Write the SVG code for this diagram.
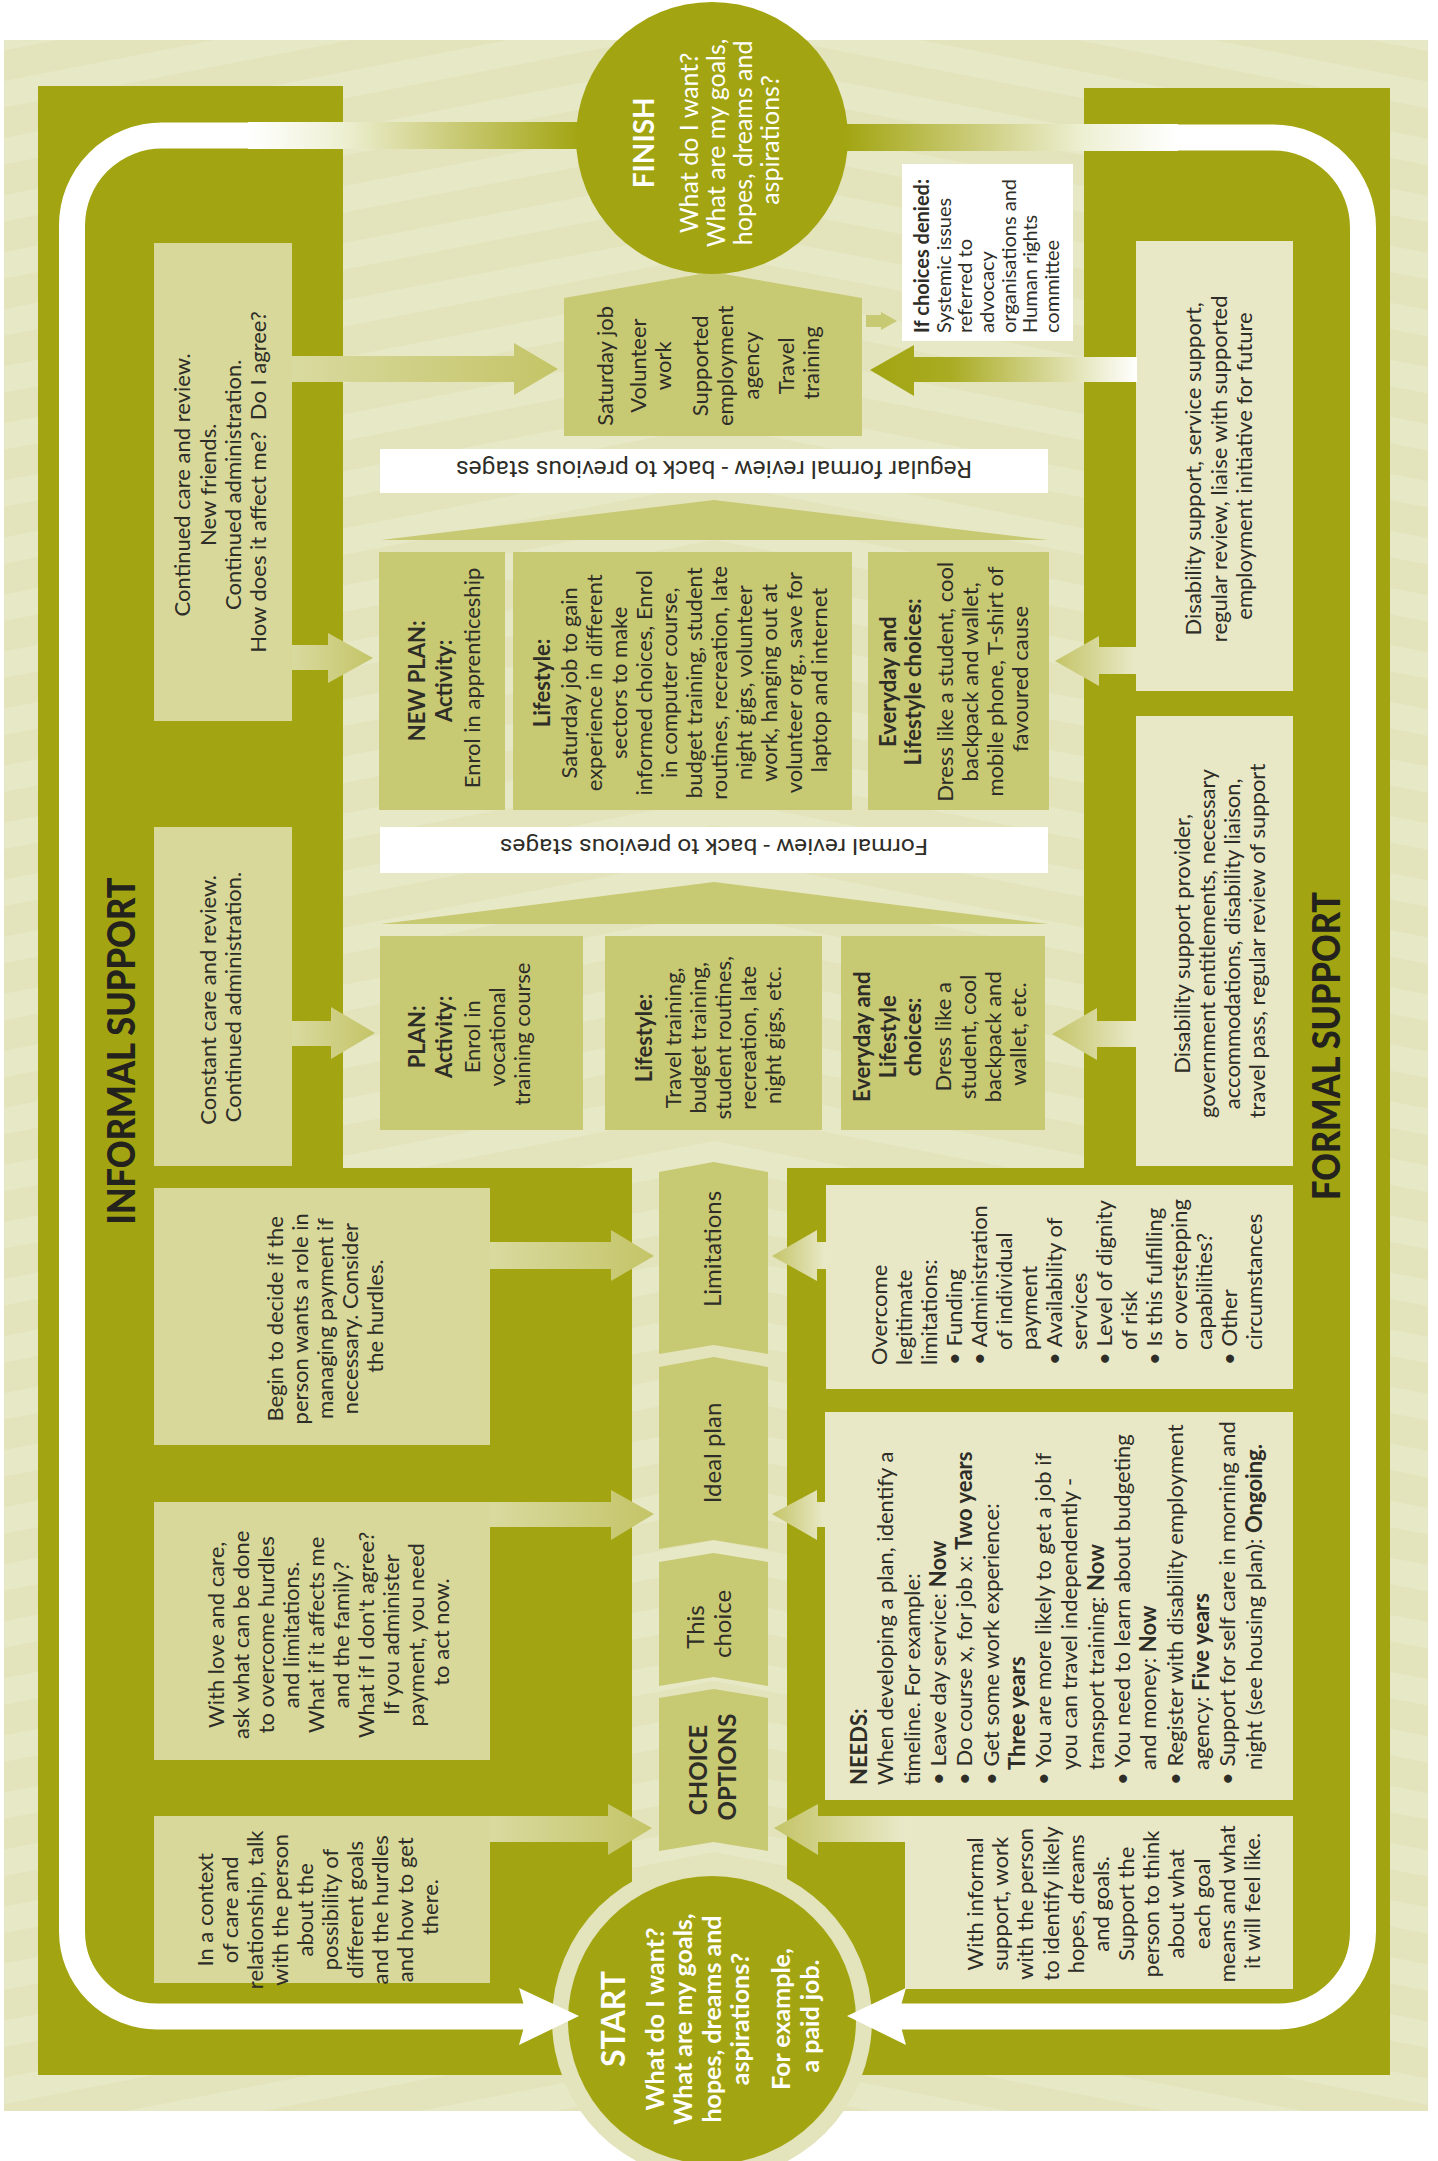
<svg xmlns="http://www.w3.org/2000/svg" width="1438" height="2161" viewBox="0 0 1438 2161">
<defs>
<style>
.t{font-family:Lato,"Open Sans","Liberation Sans",sans-serif;font-size:22px;fill:#2e2d27}
.b{font-weight:700}
.c{font-size:24px}
.w{fill:#ffffff}
.big{font-size:37px;font-weight:900;fill:#23221d}
.rev{font-family:Roboto,"Liberation Sans",sans-serif;font-size:23px;fill:#2e2d27}
.dark{fill:#a2a511}
.mid{fill:#c8c973}
.lb{fill:#d7d89a}
.rb{fill:#e8e8c6}
.loop{fill:none;stroke:#ffffff;stroke-width:26}
</style>
<pattern id="sL" patternUnits="userSpaceOnUse" width="400" height="56" patternTransform="rotate(-11 714 0)">
<rect width="400" height="56" fill="#e3e4bc"/><rect width="400" height="26" fill="#e7e8c5"/>
</pattern>
<pattern id="sR" patternUnits="userSpaceOnUse" width="400" height="56" patternTransform="rotate(11 714 0)">
<rect width="400" height="56" fill="#e3e4bc"/><rect width="400" height="26" fill="#e7e8c5"/>
</pattern>
<linearGradient id="gAR" x1="0" y1="0" x2="1" y2="0"><stop offset="0" stop-color="#d9da9f"/><stop offset="1" stop-color="#c4c467"/></linearGradient>
<linearGradient id="gAL" x1="0" y1="0" x2="1" y2="0"><stop offset="0" stop-color="#c4c467"/><stop offset="1" stop-color="#e9e9c9"/></linearGradient>
<linearGradient id="gDk" x1="0" y1="0" x2="1" y2="0"><stop offset="0" stop-color="#a2a511"/><stop offset="0.3" stop-color="#a9ab22"/><stop offset="1" stop-color="#ffffff"/></linearGradient>
<linearGradient id="gTL" gradientUnits="userSpaceOnUse" x1="248" y1="0" x2="580" y2="0"><stop offset="0" stop-color="#ffffff"/><stop offset="0.28" stop-color="#eef0d4"/><stop offset="0.64" stop-color="#c8c972"/><stop offset="1" stop-color="#a2a511"/></linearGradient>
<linearGradient id="gTR" gradientUnits="userSpaceOnUse" x1="1178" y1="0" x2="845" y2="0"><stop offset="0" stop-color="#ffffff"/><stop offset="0.28" stop-color="#eef0d4"/><stop offset="0.64" stop-color="#c8c972"/><stop offset="1" stop-color="#a2a511"/></linearGradient>
</defs>

<g id="background">
<rect x="4" y="40" width="710" height="2071" fill="url(#sL)"/>
<rect x="714" y="40" width="714" height="2071" fill="url(#sR)"/>
<path class="dark" d="M38 86H343V1168H632V2075H38Z"/>
<path class="dark" d="M1084 88H1390V2075H787V1168H1084Z"/>
</g>

<g id="informal-support-label">
<text class="t big" transform="translate(0 1051) rotate(-90)" text-anchor="middle" x="0" y="135" textLength="347" lengthAdjust="spacingAndGlyphs">INFORMAL SUPPORT</text>
</g>
<g id="formal-support-label">
<text class="t big" transform="translate(0 1046) rotate(-90)" text-anchor="middle" x="0" y="1340" textLength="308" lengthAdjust="spacingAndGlyphs">FORMAL SUPPORT</text>
</g>

<g id="outcome-box">
<polygon class="mid" points="564,436 564,298 712,272 862,298 862,436"/>
<text class="t" transform="translate(0 363) rotate(-90)" text-anchor="middle">
<tspan x="0" y="613">Saturday job</tspan>
<tspan x="0" y="646">Volunteer</tspan>
<tspan x="0" y="671">work</tspan>
<tspan x="0" y="708">Supported</tspan>
<tspan x="0" y="733">employment</tspan>
<tspan x="0" y="759">agency</tspan>
<tspan x="0" y="794">Travel</tspan>
<tspan x="0" y="819">training</tspan>
</text>
</g>

<g id="finish">
<circle class="dark" cx="712" cy="138" r="136"/>
<text class="t w" transform="translate(0 140) rotate(-90)" text-anchor="middle">
<tspan x="0" y="654" class="b" style="font-size:28px">FINISH</tspan>
<tspan x="0" y="698" style="font-size:25px">What do I want?</tspan>
<tspan x="0" y="725" style="font-size:25px">What are my goals,</tspan>
<tspan x="0" y="752" style="font-size:25px">hopes, dreams and</tspan>
<tspan x="0" y="779" style="font-size:25px">aspirations?</tspan>
</text>
</g>

<g id="choices-denied">
<rect x="902" y="164" width="171" height="177" fill="#ffffff"/>
<text class="t" style="font-size:20px" transform="translate(0 333) rotate(-90)">
<tspan x="0" y="929" class="b">If choices denied:</tspan>
<tspan x="0" y="951">Systemic issues</tspan>
<tspan x="0" y="972">referred to</tspan>
<tspan x="0" y="994">advocacy</tspan>
<tspan x="0" y="1016">organisations and</tspan>
<tspan x="0" y="1037">Human rights</tspan>
<tspan x="0" y="1059">committee</tspan>
</text>
</g>

<g id="regular-review">
<rect x="380" y="449" width="668" height="44" fill="#ffffff"/>
<text class="rev" transform="rotate(180 714 471)" x="714" y="481" text-anchor="middle" textLength="516" lengthAdjust="spacingAndGlyphs">Regular formal review - back to previous stages</text>
<polygon class="mid" points="381,540 714,500 1048,540"/>
</g>

<g id="newplan-activity">
<rect class="mid" x="379" y="552" width="126" height="258"/>
<text class="t" transform="translate(0 678) rotate(-90)" text-anchor="middle">
<tspan x="0" y="425" class="b">NEW PLAN:</tspan>
<tspan x="0" y="452" class="b">Activity:</tspan>
<tspan x="0" y="480">Enrol in apprenticeship</tspan>
</text>
</g>
<g id="newplan-lifestyle">
<rect class="mid" x="513" y="552" width="339" height="258"/>
<text class="t" transform="translate(0 680) rotate(-90)" text-anchor="middle">
<tspan x="0" y="550" class="b">Lifestyle:</tspan>
<tspan x="0" y="577">Saturday job to gain</tspan>
<tspan x="0" y="602">experience in different</tspan>
<tspan x="0" y="627">sectors to make</tspan>
<tspan x="0" y="652">informed choices, Enrol</tspan>
<tspan x="0" y="677">in computer course,</tspan>
<tspan x="0" y="702">budget training, student</tspan>
<tspan x="0" y="727">routines, recreation, late</tspan>
<tspan x="0" y="752">night gigs, volunteer</tspan>
<tspan x="0" y="777">work, hanging out at</tspan>
<tspan x="0" y="802">volunteer org., save for</tspan>
<tspan x="0" y="827">laptop and internet</tspan>
</text>
</g>
<g id="newplan-everyday">
<rect class="mid" x="868" y="552" width="181" height="258"/>
<text class="t" transform="translate(0 679) rotate(-90)" text-anchor="middle">
<tspan x="0" y="896" class="b">Everyday and</tspan>
<tspan x="0" y="921" class="b">Lifestyle choices:</tspan>
<tspan x="0" y="953">Dress like a student, cool</tspan>
<tspan x="0" y="978">backpack and wallet,</tspan>
<tspan x="0" y="1003">mobile phone, T-shirt of</tspan>
<tspan x="0" y="1028">favoured cause</tspan>
</text>
</g>

<g id="formal-review">
<rect x="380" y="827" width="668" height="46" fill="#ffffff"/>
<text class="rev" style="font-size:22px" transform="rotate(180 714 850)" x="714" y="861" text-anchor="middle" textLength="428" lengthAdjust="spacingAndGlyphs">Formal review - back to previous stages</text>
<polygon class="mid" points="381,924 714,882 1048,924"/>
</g>

<g id="plan-activity">
<rect class="mid" x="380" y="936" width="203" height="194"/>
<text class="t" transform="translate(0 1034) rotate(-90)" text-anchor="middle">
<tspan x="0" y="425" class="b">PLAN:</tspan>
<tspan x="0" y="452" class="b">Activity:</tspan>
<tspan x="0" y="480">Enrol in</tspan>
<tspan x="0" y="505">vocational</tspan>
<tspan x="0" y="530">training course</tspan>
</text>
</g>
<g id="plan-lifestyle">
<rect class="mid" x="605" y="936" width="217" height="194"/>
<text class="t" transform="translate(0 1035) rotate(-90)" text-anchor="middle">
<tspan x="0" y="652" class="b">Lifestyle:</tspan>
<tspan x="0" y="681">Travel training,</tspan>
<tspan x="0" y="706">budget training,</tspan>
<tspan x="0" y="731">student routines,</tspan>
<tspan x="0" y="756">recreation, late</tspan>
<tspan x="0" y="781">night gigs, etc.</tspan>
</text>
</g>
<g id="plan-everyday">
<rect class="mid" x="841" y="936" width="204" height="194"/>
<text class="t" transform="translate(0 1034) rotate(-90)" text-anchor="middle">
<tspan x="0" y="870" class="b">Everyday and</tspan>
<tspan x="0" y="896" class="b">Lifestyle</tspan>
<tspan x="0" y="921" class="b">choices:</tspan>
<tspan x="0" y="951">Dress like a</tspan>
<tspan x="0" y="976">student, cool</tspan>
<tspan x="0" y="1001">backpack and</tspan>
<tspan x="0" y="1026">wallet, etc.</tspan>
</text>
</g>

<g id="limitations">
<path class="mid" d="M659 1172L713.5 1162L768 1172V1354L713.5 1345L659 1354Z"/>
<text class="t c" transform="translate(0 1249) rotate(-90)" text-anchor="middle" x="0" y="721">Limitations</text>
</g>
<g id="ideal-plan">
<path class="mid" d="M659 1367L713.5 1357L768 1367V1549L713.5 1540L659 1549Z"/>
<text class="t c" transform="translate(0 1453) rotate(-90)" text-anchor="middle" x="0" y="721">Ideal plan</text>
</g>
<g id="this-choice">
<path class="mid" d="M659 1562L713.5 1553L768 1562V1686L713.5 1677L659 1686Z"/>
<text class="t c" transform="translate(0 1624) rotate(-90)" text-anchor="middle">
<tspan x="0" y="704">This</tspan>
<tspan x="0" y="731">choice</tspan>
</text>
</g>
<g id="choice-options">
<path class="mid" d="M659 1698L713.5 1689L768 1698V1851L713.5 1842L659 1851Z"/>
<text class="t c b" transform="translate(0 1767) rotate(-90)" text-anchor="middle">
<tspan x="0" y="707">CHOICE</tspan>
<tspan x="0" y="736">OPTIONS</tspan>
</text>
</g>

<g id="start">
<circle cx="712" cy="2020" r="160" fill="#e3e4bc"/>
<circle class="dark" cx="712" cy="2020" r="144"/>
<text class="t w b" style="font-size:25px" transform="translate(0 2016) rotate(-90)" text-anchor="middle">
<tspan x="0" y="625" style="font-size:32px">START</tspan>
<tspan x="0" y="664">What do I want?</tspan>
<tspan x="0" y="692">What are my goals,</tspan>
<tspan x="0" y="721">hopes, dreams and</tspan>
<tspan x="0" y="749">aspirations?</tspan>
<tspan x="0" y="790">For example,</tspan>
<tspan x="0" y="819">a paid job.</tspan>
</text>
</g>

<g id="informal-continued">
<rect class="lb" x="154" y="243" width="138" height="478"/>
<text class="t" transform="translate(0 482) rotate(-90)" text-anchor="middle">
<tspan x="0" y="190">Continued care and review.</tspan>
<tspan x="0" y="216">New friends.</tspan>
<tspan x="0" y="241">Continued administration.</tspan>
<tspan x="0" y="266">How does it affect me?&#160; Do I agree?</tspan>
</text>
</g>
<g id="informal-constant">
<rect class="lb" x="154" y="827" width="138" height="339"/>
<text class="t" transform="translate(0 997) rotate(-90)" text-anchor="middle">
<tspan x="0" y="216">Constant care and review.</tspan>
<tspan x="0" y="241">Continued administration.</tspan>
</text>
</g>
<g id="informal-begin">
<rect class="lb" x="154" y="1188" width="336" height="257"/>
<text class="t" transform="translate(0 1316) rotate(-90)" text-anchor="middle">
<tspan x="0" y="283">Begin to decide if the</tspan>
<tspan x="0" y="308">person wants a role in</tspan>
<tspan x="0" y="333">managing payment if</tspan>
<tspan x="0" y="358">necessary. Consider</tspan>
<tspan x="0" y="383">the hurdles.</tspan>
</text>
</g>
<g id="informal-love">
<rect class="lb" x="154" y="1502" width="336" height="258"/>
<text class="t" transform="translate(0 1632) rotate(-90)" text-anchor="middle">
<tspan x="0" y="224">With love and care,</tspan>
<tspan x="0" y="249">ask what can be done</tspan>
<tspan x="0" y="274">to overcome hurdles</tspan>
<tspan x="0" y="299">and limitations.</tspan>
<tspan x="0" y="324">What if it affects me</tspan>
<tspan x="0" y="349">and the family?</tspan>
<tspan x="0" y="374">What if I don't agree?</tspan>
<tspan x="0" y="399">If you administer</tspan>
<tspan x="0" y="424">payment, you need</tspan>
<tspan x="0" y="449">to act now.</tspan>
</text>
</g>
<g id="informal-context">
<rect class="lb" x="154" y="1816" width="336" height="167"/>
<text class="t" transform="translate(0 1907) rotate(-90)" text-anchor="middle">
<tspan x="0" y="213">In a context</tspan>
<tspan x="0" y="238">of care and</tspan>
<tspan x="0" y="263">relationship, talk</tspan>
<tspan x="0" y="288">with the person</tspan>
<tspan x="0" y="313">about the</tspan>
<tspan x="0" y="338">possibility of</tspan>
<tspan x="0" y="363">different goals</tspan>
<tspan x="0" y="388">and the hurdles</tspan>
<tspan x="0" y="413">and how to get</tspan>
<tspan x="0" y="438">there.</tspan>
</text>
</g>

<g id="formal-service">
<rect class="rb" x="1136" y="241" width="157" height="450"/>
<text class="t" transform="translate(0 466) rotate(-90)" text-anchor="middle">
<tspan x="0" y="1201">Disability support, service support,</tspan>
<tspan x="0" y="1227">regular review, liaise with supported</tspan>
<tspan x="0" y="1252">employment initiative for future</tspan>
</text>
</g>
<g id="formal-provider">
<rect class="rb" x="1136" y="716" width="157" height="450"/>
<text class="t" transform="translate(0 941) rotate(-90)" text-anchor="middle">
<tspan x="0" y="1190">Disability support provider,</tspan>
<tspan x="0" y="1215">government entitlements, necessary</tspan>
<tspan x="0" y="1240">accommodations, disability liaison,</tspan>
<tspan x="0" y="1265">travel pass, regular review of support</tspan>
</text>
</g>
<g id="formal-limitations">
<rect class="rb" x="826" y="1185" width="467" height="204"/>
<text class="t" transform="translate(0 1365) rotate(-90)">
<tspan x="0" y="887">Overcome</tspan>
<tspan x="0" y="912">legitimate</tspan>
<tspan x="0" y="937">limitations:</tspan>
<tspan x="0" y="962">• Funding</tspan>
<tspan x="0" y="987">• Administration</tspan>
<tspan x="15" y="1012">of individual</tspan>
<tspan x="15" y="1037">payment</tspan>
<tspan x="0" y="1062">• Availability of</tspan>
<tspan x="15" y="1087">services</tspan>
<tspan x="0" y="1112">• Level of dignity</tspan>
<tspan x="15" y="1137">of risk</tspan>
<tspan x="0" y="1162">• Is this fulfilling</tspan>
<tspan x="15" y="1187">or overstepping</tspan>
<tspan x="15" y="1212">capabilities?</tspan>
<tspan x="0" y="1237">• Other</tspan>
<tspan x="15" y="1262">circumstances</tspan>
</text>
</g>
<g id="formal-needs">
<rect class="rb" x="825" y="1412" width="468" height="388"/>
<text class="t" transform="translate(0 1785) rotate(-90)">
<tspan x="0" y="867" class="b">NEEDS:</tspan>
<tspan x="0" y="893">When developing a plan, identify a</tspan>
<tspan x="0" y="920">timeline. For example:</tspan>
<tspan x="0" y="946">• Leave day service: <tspan class="b">Now</tspan></tspan>
<tspan x="0" y="972">• Do course x, for job x: <tspan class="b">Two years</tspan></tspan>
<tspan x="0" y="999">• Get some work experience:</tspan>
<tspan x="15" y="1025" class="b">Three years</tspan>
<tspan x="0" y="1051">• You are more likely to get a job if</tspan>
<tspan x="15" y="1077">you can travel independently -</tspan>
<tspan x="15" y="1104">transport training: <tspan class="b">Now</tspan></tspan>
<tspan x="0" y="1130">• You need to learn about budgeting</tspan>
<tspan x="15" y="1156">and money: <tspan class="b">Now</tspan></tspan>
<tspan x="0" y="1183">• Register with disability employment</tspan>
<tspan x="15" y="1209">agency: <tspan class="b">Five years</tspan></tspan>
<tspan x="0" y="1235">• Support for self care in morning and</tspan>
<tspan x="15" y="1262">night (see housing plan): <tspan class="b">Ongoing.</tspan></tspan>
</text>
</g>
<g id="formal-informal-support">
<rect class="rb" x="905" y="1816" width="388" height="173"/>
<text class="t" transform="translate(0 1901) rotate(-90)" text-anchor="middle">
<tspan x="0" y="983">With informal</tspan>
<tspan x="0" y="1008">support, work</tspan>
<tspan x="0" y="1033">with the person</tspan>
<tspan x="0" y="1059">to identify likely</tspan>
<tspan x="0" y="1084">hopes, dreams</tspan>
<tspan x="0" y="1109">and goals.</tspan>
<tspan x="0" y="1134">Support the</tspan>
<tspan x="0" y="1159">person to think</tspan>
<tspan x="0" y="1184">about what</tspan>
<tspan x="0" y="1210">each goal</tspan>
<tspan x="0" y="1235">means and what</tspan>
<tspan x="0" y="1260">it will feel like.</tspan>
</text>
</g>

<g id="connectors">
<path class="loop" d="M252 135.5H162A90 90 0 0 0 72 225.5V1931.5A85 85 0 0 0 157 2016.5H530"/>
<path class="loop" d="M1176 137.5H1273A90 90 0 0 1 1363 227.5V1931.5A85 85 0 0 1 1278 2016.5H898"/>
<rect x="248" y="122" width="332" height="27" fill="url(#gTL)"/>
<rect x="845" y="124" width="333" height="27" fill="url(#gTR)"/>
<polygon fill="#ffffff" points="519,1988 579,2016 519,2045 527,2016"/>
<polygon fill="#ffffff" points="906,1988 847,2016 906,2045 898,2016"/>
<polygon fill="url(#gAR)" points="292,356 514,356 514,343 558,369 514,395 514,382 292,382"/>
<polygon fill="url(#gAR)" points="292,645 328,645 328,633 373,658 328,683 328,670 292,670"/>
<polygon fill="url(#gAR)" points="292,1021 331,1021 331,1007 375,1033 331,1059 331,1046 292,1046"/>
<polygon fill="url(#gAR)" points="490,1242 611,1242 611,1230 654,1256 611,1281 611,1269 490,1269"/>
<polygon fill="url(#gAR)" points="490,1502 611,1502 611,1490 654,1514 611,1540 611,1527 490,1527"/>
<polygon fill="url(#gAR)" points="490,1816 608,1816 608,1804 652,1828 608,1855 608,1842 490,1842"/>
<polygon fill="url(#gDk)" points="1137,357 914,357 914,345 870,370 914,396 914,382 1137,382"/>
<polygon fill="url(#gAL)" points="1136,647 1099,647 1099,636 1055,661 1099,686 1099,674 1136,674"/>
<polygon fill="url(#gAL)" points="1136,1021 1097,1021 1097,1008 1052,1034 1097,1060 1097,1047 1136,1047"/>
<polygon fill="url(#gAL)" points="826,1242 817,1242 817,1230 772,1256 817,1281 817,1269 826,1269"/>
<polygon fill="url(#gAL)" points="825,1502 817,1502 817,1490 772,1514 817,1540 817,1527 825,1527"/>
<polygon fill="url(#gAL)" points="905,1816 818,1816 818,1804 774,1828 818,1855 818,1842 905,1842"/>
<polygon class="mid" points="866,315 881,315 881,312 897,321 881,330 881,327 866,327"/>
</g>
</svg>
